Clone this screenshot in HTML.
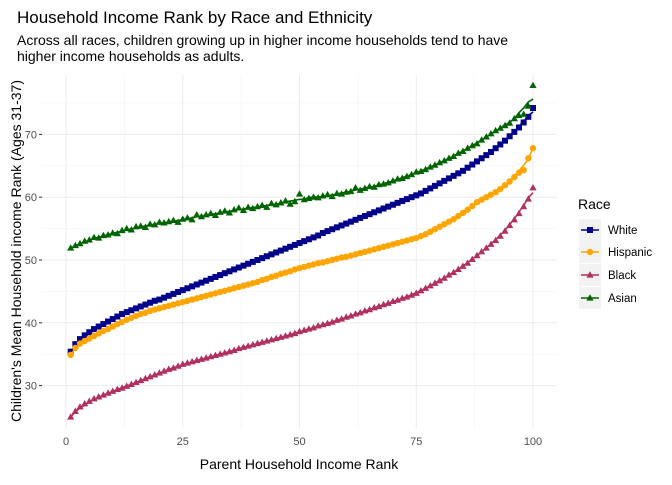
<!DOCTYPE html>
<html><head><meta charset="utf-8">
<style>
body{margin:0;background:#fff;font-family:"Liberation Sans",sans-serif;}
svg text{font-family:"Liberation Sans",sans-serif;}
</style></head>
<body>
<svg id="chart" width="672" height="480" viewBox="0 0 672 480" xmlns="http://www.w3.org/2000/svg">
<rect width="672" height="480" fill="#fff"/>
<text x="17" y="23" font-size="17" fill="#000">Household Income Rank by Race and Ethnicity</text>
<text x="17" y="45" font-size="14" fill="#000">Across all races, children growing up in higher income households tend to have</text>
<text x="17" y="61" font-size="14" fill="#000">higher income households as adults.</text>
<g id="grid"></g>
<g id="marks"></g>
<g id="axes"></g>
<text x="299" y="469" font-size="14" text-anchor="middle" fill="#000">Parent Household Income Rank</text>
<text transform="translate(21,251) rotate(-90)" font-size="14" text-anchor="middle" fill="#000">Children's Mean Household income Rank (Ages 31-37)</text>
<g id="legend"></g>
</svg>
<script>
const seriesNames = ["White","Hispanic","Black","Asian"];
const whiteVals = [35.4,36.6,37.4,38.0,38.5,39.0,39.4,39.8,40.2,40.6,41.0,41.4,41.7,42.0,42.3,42.6,42.9,43.2,43.5,43.7,44.0,44.3,44.6,44.9,45.2,45.5,45.8,46.1,46.4,46.7,47.0,47.3,47.6,47.9,48.2,48.5,48.8,49.1,49.4,49.7,50.0,50.3,50.6,50.9,51.2,51.5,51.8,52.1,52.4,52.7,53.0,53.3,53.6,53.9,54.3,54.6,54.9,55.2,55.5,55.8,56.1,56.4,56.7,57.0,57.3,57.6,57.9,58.2,58.5,58.8,59.1,59.4,59.7,60.0,60.3,60.6,61.0,61.4,61.8,62.2,62.6,63.0,63.4,63.8,64.2,64.7,65.2,65.7,66.2,66.7,67.2,67.8,68.4,69.0,69.7,70.4,71.1,71.9,72.8,74.2];
const hispanicVals = [34.9,36.0,36.7,37.1,37.5,37.9,38.3,38.7,39.0,39.4,39.8,40.1,40.5,40.8,41.1,41.4,41.6,41.9,42.1,42.3,42.5,42.7,42.9,43.1,43.3,43.5,43.7,43.9,44.1,44.3,44.5,44.7,44.9,45.1,45.3,45.5,45.7,45.9,46.1,46.3,46.5,46.8,47.0,47.3,47.5,47.8,48.0,48.2,48.5,48.7,48.9,49.1,49.3,49.5,49.6,49.8,50.0,50.2,50.4,50.5,50.7,50.9,51.1,51.3,51.5,51.7,51.9,52.1,52.3,52.5,52.7,52.9,53.1,53.3,53.5,53.8,54.1,54.5,54.9,55.3,55.7,56.1,56.5,57.0,57.5,58.0,58.6,59.2,59.6,60.0,60.4,60.8,61.3,61.9,62.5,63.2,63.9,64.3,66.2,67.8];
const blackVals = [25.0,25.9,26.6,27.1,27.5,27.9,28.2,28.5,28.8,29.1,29.4,29.6,29.9,30.2,30.5,30.8,31.1,31.4,31.7,32.0,32.3,32.6,32.8,33.1,33.4,33.6,33.8,34.0,34.2,34.4,34.6,34.8,35.0,35.2,35.4,35.6,35.9,36.1,36.3,36.5,36.7,36.9,37.1,37.3,37.5,37.7,37.9,38.1,38.3,38.6,38.8,39.0,39.2,39.5,39.7,39.9,40.1,40.4,40.6,40.9,41.1,41.4,41.6,41.9,42.1,42.4,42.6,42.9,43.1,43.4,43.6,43.9,44.1,44.4,44.7,45.1,45.5,45.9,46.3,46.7,47.1,47.6,48.0,48.5,49.0,49.5,50.1,50.7,51.3,51.9,52.5,53.1,53.8,54.6,55.5,56.4,57.4,58.5,59.7,61.5];
const asianVals = [51.9,52.3,52.6,53.0,53.2,53.6,53.5,53.9,54.0,54.3,54.2,54.7,55.0,54.8,55.3,55.4,55.2,55.7,55.6,56.0,55.9,56.1,56.3,56.0,56.5,56.7,56.4,57.2,56.9,57.2,57.4,57.1,57.6,57.8,57.5,58.0,58.3,57.9,58.4,58.2,58.5,58.7,58.4,59.0,58.8,59.1,59.4,58.9,59.3,60.5,59.6,59.8,60.0,59.9,60.2,60.4,60.1,60.6,60.5,60.8,60.9,61.5,61.1,61.4,61.7,61.6,62.0,62.1,62.3,62.6,62.9,63.0,63.3,63.6,64.0,64.1,64.4,64.8,65.1,65.5,65.8,66.2,66.5,67.0,67.3,67.8,68.2,68.5,69.1,69.6,70.1,70.6,71.0,71.4,71.8,72.5,73.0,73.2,74.5,77.8];
const xTicks = [0,25,50,75,100];
const yTicks = [30,40,50,60,70];

const NS="http://www.w3.org/2000/svg";
const P={l:42,r:557,t:75,b:428};
function xs(v){return 66+v*4.67;}
function ys(v){return 260-(v-50)*6.28;}
function mk(tag,attrs,parent){const e=document.createElementNS(NS,tag);for(const k in attrs)e.setAttribute(k,attrs[k]);parent.appendChild(e);return e;}
const grid=document.getElementById('grid'),marks=document.getElementById('marks'),axes=document.getElementById('axes'),legend=document.getElementById('legend');
const bg=mk('rect',{x:P.l,y:P.t,width:P.r-P.l,height:P.b-P.t,fill:'#fff'},grid);


for(let i=0;i<xTicks.length;i++){
  const v=xTicks[i];
  const g=mk('line',{x1:xs(v),x2:xs(v),y1:P.t,y2:P.b,stroke:'#ebebeb','stroke-width':1},grid);
  
  
  if(i<xTicks.length-1){const m=(v+xTicks[i+1])/2;
    const g2=mk('line',{x1:xs(m),x2:xs(m),y1:P.t,y2:P.b,stroke:'#f4f4f4','stroke-width':0.6},grid);
    
    }
  const t=mk('text',{x:xs(v),y:445,'font-size':11,'text-anchor':'middle',fill:'#4d4d4d'},axes);
  t.textContent=v;
  
  
}
for(let i=0;i<yTicks.length;i++){
  const v=yTicks[i];
  const g=mk('line',{x1:P.l,x2:P.r,y1:ys(v),y2:ys(v),stroke:'#ebebeb','stroke-width':1},grid);
  
  
  const m=v+5;
  const g2=mk('line',{x1:P.l,x2:P.r,y1:ys(m),y2:ys(m),stroke:'#f4f4f4','stroke-width':0.6},grid);
  
  
  const tk=mk('line',{x1:P.l-3,x2:P.l,y1:ys(v),y2:ys(v),stroke:'#333','stroke-width':1},axes);
  
  
  const t=mk('text',{x:P.l-5,y:ys(v)+4,'font-size':11,'text-anchor':'end',fill:'#4d4d4d'},axes);
  t.textContent=v;
  
  
}
const seriesVals=[whiteVals,hispanicVals,blackVals,asianVals];
const colors=['#00008B','#FFA500','#B03060','#006400'];
const shapes=['square','circle','triangle','triangle'];
function shape(kind,x,y,c,parent){
  if(kind==='square')return mk('rect',{x:x-3,y:y-3,width:6,height:6,fill:c},parent);
  if(kind==='circle')return mk('circle',{cx:x,cy:y,r:3.2,fill:c},parent);
  return mk('polygon',{points:`${x},${y-3.8} ${x+3.6},${y+2.6} ${x-3.6},${y+2.6}`,fill:c},parent);
}
function smooth(vals){
  const out=[];const n=vals.length;
  for(let i=0;i<n;i++){const w=Math.min(3,i,n-1-i);let s=0,c=0;for(let j=i-w;j<=i+w;j++){s+=vals[j];c++;}out.push(s/c);}
  out[n-1]=(vals[n-2]*2+vals[n-3])/3+ (vals[n-2]-vals[n-3])*1.2;
  out[0]=vals[0];
  return out;
}
seriesVals.forEach((vals,si)=>{
  const g=mk('g',{},marks);
  
  
  vals.forEach((v,i)=>{
    const p=shape(shapes[si],xs(i+1),ys(v),colors[si],g);
    
    
  });
  const sm=smooth(vals);
  const d=sm.map((v,i)=>(i?'L':'M')+xs(i+1).toFixed(1)+','+ys(v).toFixed(1)).join(' ');
  const l=mk('path',{d:d,fill:'none',stroke:colors[si],'stroke-width':1.6},g);
  
  
});
const lt=mk('text',{x:578,y:209,'font-size':14,fill:'#000'},legend);
lt.textContent='Race';


const rowY=[230,252,275,298];
seriesNames.forEach((n,i)=>{
  const g=mk('g',{},legend);
  
  
  mk('rect',{x:579,y:rowY[i]-11,width:22,height:22,fill:'#f2f2f2'},g);
  mk('line',{x1:581,x2:599,y1:rowY[i],y2:rowY[i],stroke:colors[i],'stroke-width':1.6},g);
  shape(shapes[i],590,rowY[i],colors[i],g);
  const t=mk('text',{x:608,y:rowY[i]+4,'font-size':11.5,fill:'#000'},g);
  t.textContent=n;
});
</script>
</body></html>
